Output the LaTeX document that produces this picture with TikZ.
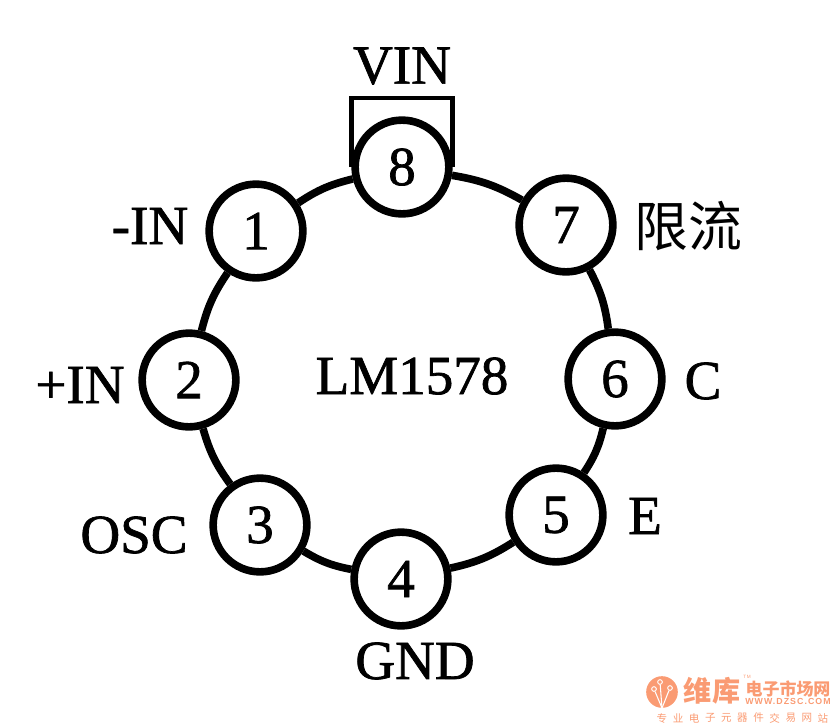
\documentclass[tikz,border=0pt]{standalone}
\usepackage{fontspec}
\setmainfont[RawFeature={embolden=1.3}]{Liberation Serif}
\newfontfamily\cjk{Noto Sans CJK SC}
\newfontfamily\logofont[LetterSpace=12]{Liberation Sans}
\definecolor{logoorange}{RGB}{250,155,115}
\tikzset{
    pin/.style={circle, draw, line width=6.5pt, minimum size=80pt, inner sep=0pt, fill=white},
    lead/.style={line width=6.5pt},
    lbl/.style={inner sep=0pt, font=\fontsize{47}{47}\selectfont},
    logo/.style={inner sep=0pt, text=logoorange},
    trace/.style={white, line width=.9pt},
    pad/.style={circle, draw=white, line width=.8pt, fill=logoorange, minimum size=4pt, inner sep=0pt}
}
\begin{document}
\begin{tikzpicture}[x=.03cm, y=-.03cm]
    \useasboundingbox (0,0) rectangle (832,728);
    % ring of pins
    \node[pin, lbl] (p1) at (256,231) {1};
    \node[pin, lbl] (p2) at (189,380) {2};
    \node[pin, lbl] (p3) at (260,525) {3};
    \node[pin, lbl] (p4) at (401,579) {4};
    \node[pin, lbl] (p5) at (556,515) {5};
    \node[pin, lbl] (p6) at (615,379) {6};
    \node[pin, lbl] (p7) at (566,225) {7};
    \node[pin, lbl] (p8) at (402,167) {8};
    \draw[lead] (p1) to[bend left=10] (p8);
    \draw[lead] (p8) to[bend left=10] (p7);
    \draw[lead] (p7) to[bend left=10] (p6);
    \draw[lead] (p6) to[bend left=10] (p5);
    \draw[lead] (p5) to[bend left=10] (p4);
    \draw[lead] (p4) to[bend left=10] (p3);
    \draw[lead] (p3) to[bend left=10] (p2);
    \draw[lead] (p2) to[bend left=10] (p1);
    % tab on pin 8
    \coordinate (tabl) at (p8.west |- 0,98);
    \coordinate (tabr) at (p8.east |- 0,98);
    \draw[line width=4pt] (p8.west) -- (tabl) -- (tabr) -- (p8.east);
    % labels
    \node[lbl] (vin) at (402,66) {VIN};
    \node[lbl] (nin) at (150,226) {-IN};
    \node[lbl] (pin2) at (80,385) {+IN};
    \node[lbl] (osc) at (134,535) {OSC};
    \node[lbl] (gnd) at (415,661) {GND};
    \node[lbl] (e) at (645,516) {E};
    \node[lbl] (c) at (703,381) {C};
    \node[lbl, font=\cjk\fontsize{46}{46}\selectfont] (lim) at (688,226) {限流};
    \node[lbl] (chip) at (412,376) {LM1578};
    % logo
    \node[circle, fill=logoorange, minimum size=27pt, inner sep=0pt] (mark) at (662,692) {};
    \node[pad] (t1) at (654,689) {};
    \node[pad] (t2) at (660,682) {};
    \node[pad] (t3) at (670,688) {};
    \draw[trace] (mark.south) -- (t2);
    \draw[trace] (mark.south) -- (t1);
    \draw[trace] (mark.south) -- (t3);
    \node[logo, font=\cjk\bfseries\fontsize{24}{24}\selectfont] (wk) at (712,691) {维库};
    \node[logo, font=\cjk\bfseries\fontsize{14.5}{14.5}\selectfont] (mkt) at (788,689) {电子市场网};
    \node[logo, font=\logofont\bfseries\fontsize{7.5}{7.5}\selectfont] (url) at (788,701) {WWW.DZSC.COM};
    \node[logo, font=\logofont\fontsize{4}{4}\selectfont] (tm) at (747,677) {TM};
    \foreach \c [count=\i from 0] in {专,业,电,子,元,器,件,交,易,网,站}
        \node[logo, font=\cjk\fontsize{9}{9}\selectfont] (w\i) at ({662+\i*16.1},718) {\c};
\end{tikzpicture}
\end{document}
